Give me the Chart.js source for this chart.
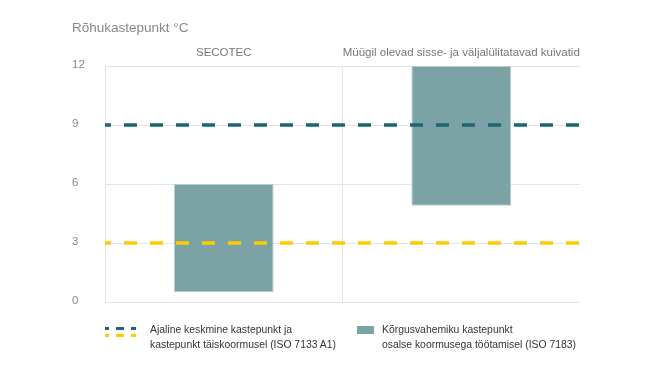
<!DOCTYPE html>
<html>
<head>
<meta charset="utf-8">
<script src="https://cdn.jsdelivr.net/npm/chart.js"></script>
<style>
  body { margin: 0; background: #fff; font-family: "Liberation Sans", Arial, Helvetica, sans-serif; }
  .wrap { position: relative; width: 660px; height: 371px; }
  canvas { position: absolute; left: 0; top: 0; }
  .legend { position: absolute; top: 322px; font-size: 10.4px; line-height: 15px; color: #333; }
  .dash { position: absolute; left: 0; width: 32px; height: 3px; }
  .dash span { position: absolute; top: 0; height: 3px; }
  .box { position: absolute; left: 0; top: 4px; width: 17px; height: 8px; background: #7ba3a5; }
</style>
</head>
<body>
<div class="wrap">
  <canvas id="chart" width="660" height="371"></canvas>
  <div class="legend" style="left:105px">
    <div class="dash" style="top:5px"><span style="left:0;width:4px;background:#1d6670"></span><span style="left:11px;width:8px;background:#1d6670"></span><span style="left:26px;width:5px;background:#1d6670"></span></div>
    <div class="dash" style="top:12px"><span style="left:0;width:4px;background:#ffcc00"></span><span style="left:11px;width:8px;background:#ffcc00"></span><span style="left:26px;width:5px;background:#ffcc00"></span></div>
    <div style="margin-left:45px">Ajaline keskmine kastepunkt ja<br>kastepunkt täiskoormusel (ISO 7133 A1)</div>
  </div>
  <div class="legend" style="left:357px">
    <div class="box"></div>
    <div style="margin-left:25px">Kõrgusvahemiku kastepunkt<br>osalse koormusega töötamisel (ISO 7183)</div>
  </div>
</div>
<script>
const categories = ["SECOTEC", "Müügil olevad sisse- ja väljalülitatavad kuivatid"];
const rangeLow = [0.5, 4.9];
const rangeHigh = [6, 12];
const averageDewPoint = 9;
const fullLoadDewPoint = 3;
const yTicks = [0, 3, 6, 9, 12];

const grid = "#e4e4e4";

new Chart(document.getElementById("chart"), {
    type: "bar",
    data: {
        labels: categories,
        datasets: [
            {
                label: "Kõrgusvahemiku kastepunkt",
                data: categories.map((c, i) => [rangeLow[i], rangeHigh[i]]),
                backgroundColor: "#7ba3a5",
                borderColor: "#b5cdce",
                borderWidth: 1,
                borderSkipped: false,
                grouped: false,
                categoryPercentage: 1,
                barPercentage: 0.42,
                order: 2,
            },
            {
                type: "line",
                label: "Ajaline keskmine kastepunkt",
                xAxisID: "x2",
                data: [{ x: 0, y: averageDewPoint }, { x: 1, y: averageDewPoint }],
                borderColor: "#1d6670",
                borderWidth: 3.5,
                borderDash: [13, 13],
                borderDashOffset: 7,
                pointRadius: 0,
                order: 1,
            },
            {
                type: "line",
                label: "Kastepunkt täiskoormusel",
                xAxisID: "x2",
                data: [{ x: 0, y: fullLoadDewPoint }, { x: 1, y: fullLoadDewPoint }],
                borderColor: "#ffcc00",
                borderWidth: 3.5,
                borderDash: [13, 13],
                borderDashOffset: 7,
                pointRadius: 0,
                order: 1,
            },
        ],
    },
    options: {
        responsive: false,
        animation: false,
        layout: { padding: { left: 72, right: 80, top: 12, bottom: 69 } },
        plugins: {
            legend: { display: false },
            tooltip: { enabled: false },
            title: {
                display: true,
                text: "Rõhukastepunkt °C",
                align: "start",
                color: "#888",
                font: { family: "Liberation Sans", size: 13.5, weight: "normal" },
                padding: { top: 8, bottom: 4 },
            },
        },
        scales: {
            x: {
                position: "top",
                offset: true,
                grid: {
                    offset: true,
                    drawTicks: false,
                    color: c => c.index < 2 ? grid : "transparent",
                },
                border: { display: false },
                ticks: {
                    color: "#777",
                    padding: 6,
                    maxRotation: 0,
                    minRotation: 0,
                    autoSkip: false,
                    font: { family: "Liberation Sans", size: 11.5 },
                },
            },
            x2: {
                type: "linear",
                display: false,
                offset: false,
                min: 0,
                max: 1,
            },
            y: {
                min: 0,
                max: 12,
                afterBuildTicks: s => { s.ticks = yTicks.map(v => ({ value: v })); },
                afterFit: s => { s.width = 33; },
                grid: { color: grid, drawTicks: false },
                border: { color: grid },
                ticks: {
                    crossAlign: "far",
                    color: "#888",
                    labelOffset: -1,
                    padding: 0,
                    font: { family: "Liberation Sans", size: 11.5 },
                },
            },
        },
    },
});
</script>
</body>
</html>
